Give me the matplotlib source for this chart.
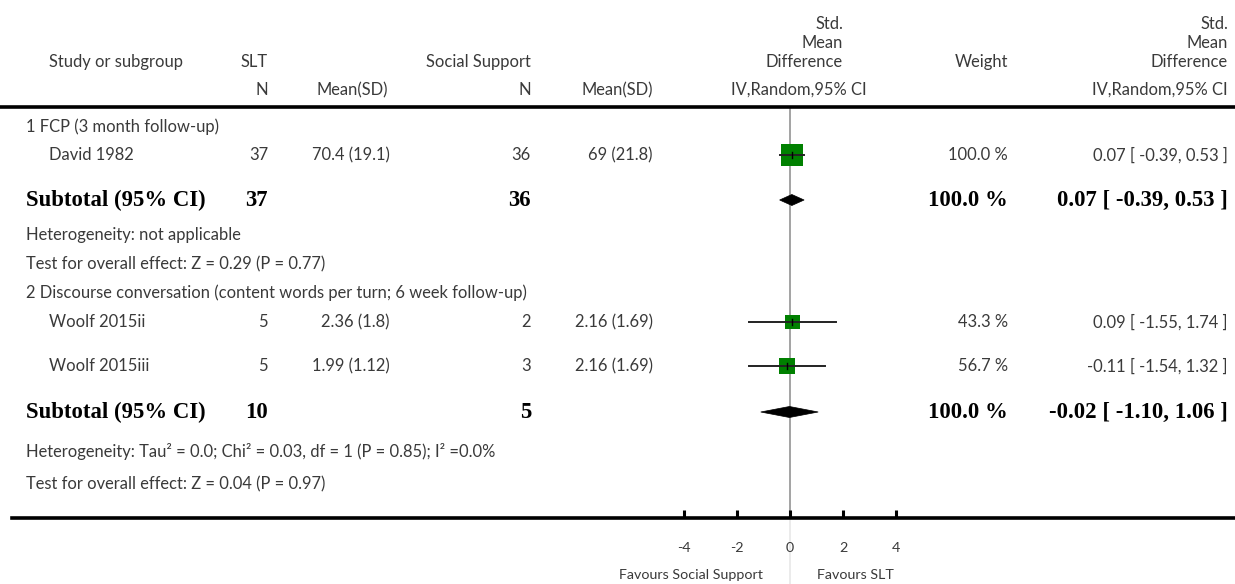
import matplotlib
matplotlib.use("Agg")
import matplotlib.pyplot as plt
from matplotlib.patches import Rectangle, Polygon
import numpy as np

# ---------------- data ----------------
subgroups = ["1 FCP (3 month follow-up)",
             "2 Discourse conversation (content words per turn; 6 week follow-up)"]
studies = ["David 1982", "Woolf 2015ii", "Woolf 2015iii"]
slt_n = [37, 5, 5]
slt_mean = [70.4, 2.36, 1.99]
slt_sd = [19.1, 1.8, 1.12]
ss_n = [36, 2, 3]
ss_mean = [69, 2.16, 2.16]
ss_sd = [21.8, 1.69, 1.69]
smd = [0.07, 0.09, -0.11]
smd_lo = [-0.39, -1.55, -1.54]
smd_hi = [0.53, 1.74, 1.32]
weights = [100.0, 43.3, 56.7]

sub_slt_n = [37, 10]
sub_ss_n = [36, 5]
sub_smd = [0.07, -0.02]
sub_lo = [-0.39, -1.10]
sub_hi = [0.53, 1.06]
sub_weight = [100.0, 100.0]
heterogeneity = ["Heterogeneity: not applicable",
                 "Heterogeneity: Tau\u00b2 = 0.0; Chi\u00b2 = 0.03, df = 1 (P = 0.85); I\u00b2 =0.0%"]
overall = ["Test for overall effect: Z = 0.29 (P = 0.77)",
           "Test for overall effect: Z = 0.04 (P = 0.97)"]
axis_ticks = [-4, -2, 0, 2, 4]
favours_left = "Favours Social Support"
favours_right = "Favours SLT"

# ---------------- layout (pixels) ----------------
W, H = 1235, 584
X0 = 790.0          # pixel of effect 0
PPU = 26.6          # pixels per effect unit
TOP_LINE = 107
AXIS_Y = 518
row_y = {
    "head0": 127, "study0": 155, "sub0": 200, "het0": 235, "test0": 264,
    "head1": 293, "study1": 322, "study2": 366, "sub1": 412, "het1": 452, "test1": 484,
}
study_rows = [row_y["study0"], row_y["study1"], row_y["study2"]]

TXT = "#3a3a3a"
FONT = "Lato"
FS = 11.9
BFONT = "Liberation Serif"
BFS = 16.4
SFS = 10.3

fig = plt.figure(figsize=(W / 100, H / 100), dpi=100)
ax = fig.add_axes([0, 0, 1, 1])
ax.set_xlim((0 - X0) / PPU, (W - X0) / PPU)
ax.set_ylim(H, 0)
ax.axis("off")


def px(x):
    return (x - X0) / PPU


def t(x, y, s, ha="left", bold=False, fs=None):
    if bold:
        ax.text(px(x), y, s, ha=ha, va="center", fontsize=BFS, family=BFONT,
                fontweight="bold", color="black")
    else:
        ax.text(px(x), y, s, ha=ha, va="center", fontsize=fs or FS, family=FONT,
                fontweight="normal", color=TXT)


# header
t(49, 62, "Study or subgroup")
t(268, 62, "SLT", ha="right")
t(531, 62, "Social Support", ha="right")
for xr in (843, 1228):
    t(xr, 24, "Std.", ha="right")
    t(xr, 43, "Mean", ha="right")
    t(xr, 62, "Difference", ha="right")
t(1008, 62, "Weight", ha="right")
t(268, 90, "N", ha="right")
t(388, 90, "Mean(SD)", ha="right")
t(531, 90, "N", ha="right")
t(653, 90, "Mean(SD)", ha="right")
t(867, 90, "IV,Random,95% CI", ha="right")
t(1228, 90, "IV,Random,95% CI", ha="right")

# top rule
ax.plot([px(0), px(W)], [TOP_LINE, TOP_LINE], color="black", lw=2.6,
        solid_capstyle="butt")

# zero line
ax.plot([0, 0], [TOP_LINE, AXIS_Y], color="#8a8a8a", lw=1.1, zorder=1)
ax.plot([0, 0], [AXIS_Y, H], color="#e6e6e6", lw=1.1, zorder=1)

# subgroup headings / summaries
for g in range(2):
    t(26, row_y[f"head{g}"], subgroups[g])
    ys = row_y[f"sub{g}"]
    t(26, ys, "Subtotal (95% CI)", bold=True)
    t(268, ys, f"{sub_slt_n[g]}", ha="right", bold=True)
    t(531, ys, f"{sub_ss_n[g]}", ha="right", bold=True)
    t(1008, ys, f"{sub_weight[g]:.1f} %", ha="right", bold=True)
    t(1228, ys, f"{sub_smd[g]:.2f} [ {sub_lo[g]:.2f}, {sub_hi[g]:.2f} ]",
      ha="right", bold=True)
    t(26, row_y[f"het{g}"], heterogeneity[g])
    t(26, row_y[f"test{g}"], overall[g])
    dh = 5.5
    ax.add_patch(Polygon([[sub_lo[g], ys], [sub_smd[g], ys - dh],
                          [sub_hi[g], ys], [sub_smd[g], ys + dh]],
                         closed=True, facecolor="black", edgecolor="black",
                         lw=0.5, zorder=3))

# studies
for i, name in enumerate(studies):
    y = study_rows[i]
    t(49, y, name)
    t(268, y, f"{slt_n[i]}", ha="right")
    t(390, y, f"{slt_mean[i]:g} ({slt_sd[i]:g})", ha="right")
    t(531, y, f"{ss_n[i]}", ha="right")
    t(653, y, f"{ss_mean[i]:g} ({ss_sd[i]:g})", ha="right")
    t(1008, y, f"{weights[i]:.1f} %", ha="right")
    t(1228, y, f"{smd[i]:.2f} [ {smd_lo[i]:.2f}, {smd_hi[i]:.2f} ]", ha="right")
    side = 22.0 * np.sqrt(weights[i] / 100.0)
    ax.add_patch(Rectangle((smd[i] - side / 2 / PPU, y - side / 2), side / PPU, side,
                           facecolor="#008000", edgecolor="none", zorder=3))
    ax.plot([smd_lo[i], smd_hi[i]], [y, y], color="#222222", lw=1.4, zorder=4)
    ax.plot([smd[i], smd[i]], [y - 3, y + 3], color="black", lw=1.0, zorder=5)

# bottom axis
axb = fig.add_axes([12 / W, (H - AXIS_Y) / H, (W - 12) / W, 0.0001])
axb.set_xlim(px(12), px(W))
axb.set_ylim(0, 1)
axb.patch.set_alpha(0)
for s in ("top", "left", "right"):
    axb.spines[s].set_visible(False)
axb.spines["bottom"].set_linewidth(2.6)
axb.set_yticks([])
axb.set_xticks(axis_ticks)
axb.set_xticklabels([f"{v:g}" for v in axis_ticks], fontsize=SFS, family=FONT,
                    color=TXT)
axb.tick_params(axis="x", direction="in", length=6, width=2.2, pad=17)

ax.text(px(763), 575, favours_left, ha="right", va="center", fontsize=SFS,
        family=FONT, color=TXT)
ax.text(px(817), 575, favours_right, ha="left", va="center", fontsize=SFS,
        family=FONT, color=TXT)

fig.savefig("out.png", dpi=100)
